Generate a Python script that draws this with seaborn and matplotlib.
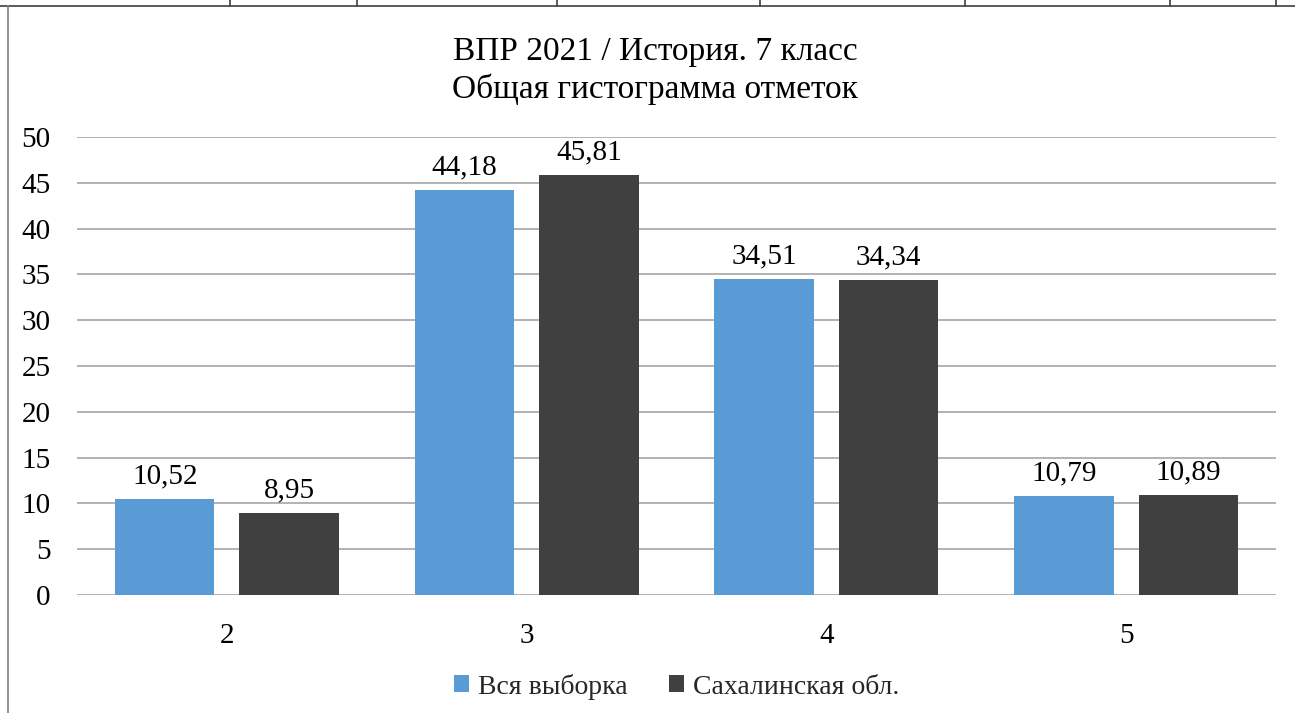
import pandas as pd
import matplotlib
matplotlib.use("Agg")
import matplotlib.pyplot as plt
import seaborn as sns
from matplotlib.lines import Line2D

# data
marks = ["2", "3", "4", "5"]
all_sample = [10.52, 44.18, 34.51, 10.79]
sakhalin = [8.95, 45.81, 34.34, 10.89]
series_names = ["Вся выборка", "Сахалинская обл."]
title = "ВПР 2021 / История. 7 класс\nОбщая гистограмма отметок"

df = pd.DataFrame({
    "mark": marks * 2,
    "value": all_sample + sakhalin,
    "series": [series_names[0]] * 4 + [series_names[1]] * 4,
})

sns.set_theme(style="white")
plt.rcParams["font.family"] = ["Liberation Serif", "DejaVu Serif"]

fig = plt.figure(figsize=(12.95, 7.13), dpi=100)
ax = fig.add_axes([0.0595, 0.1655, 0.9258, 0.6424])

sns.barplot(data=df, x="mark", y="value", hue="series",
            palette=["#5B9BD5", "#404040"], saturation=1, width=0.83, gap=0.2,
            linewidth=0, ax=ax, legend=True)

for cont in ax.containers:
    labs = [f"{b.get_height():.2f}".replace(".", ",") for b in cont]
    ax.bar_label(cont, labels=labs, padding=7, fontsize=21, color="black")

ax.set_ylim(0, 50)
ax.set_yticks(range(0, 51, 5))
ax.yaxis.grid(True, color="#a6a6a6", linewidth=1.2)
ax.set_axisbelow(True)
for s in ax.spines.values():
    s.set_visible(False)
ax.set_xlabel("")
ax.set_ylabel("")
ax.tick_params(axis="y", labelsize=21, pad=19, length=0, colors="black")
ax.tick_params(axis="x", labelsize=21, pad=20, length=0, colors="black")

fig.text(0.506, 0.901, title, ha="center", va="center", fontsize=24,
         linespacing=1.25, color="black")

ax.legend(loc="center", bbox_to_anchor=(0.5, -0.2), ncol=2, frameon=False,
          fontsize=20, handlelength=0.55, handleheight=0.55, handletextpad=0.3,
          columnspacing=1.5)

# page border / table fragment above the chart
fig.add_artist(Line2D([0, 1], [1 - 6 / 713, 1 - 6 / 713], color="#404040", lw=1.2))
fig.add_artist(Line2D([8 / 1295, 8 / 1295], [0, 1 - 6 / 713], color="#808080", lw=1.2))
for xp in [230, 357, 557, 760, 965, 1170, 1276]:
    fig.add_artist(Line2D([xp / 1295, xp / 1295], [1 - 6 / 713, 1], color="#404040", lw=1.2))

fig.savefig("out.png", dpi=100)
